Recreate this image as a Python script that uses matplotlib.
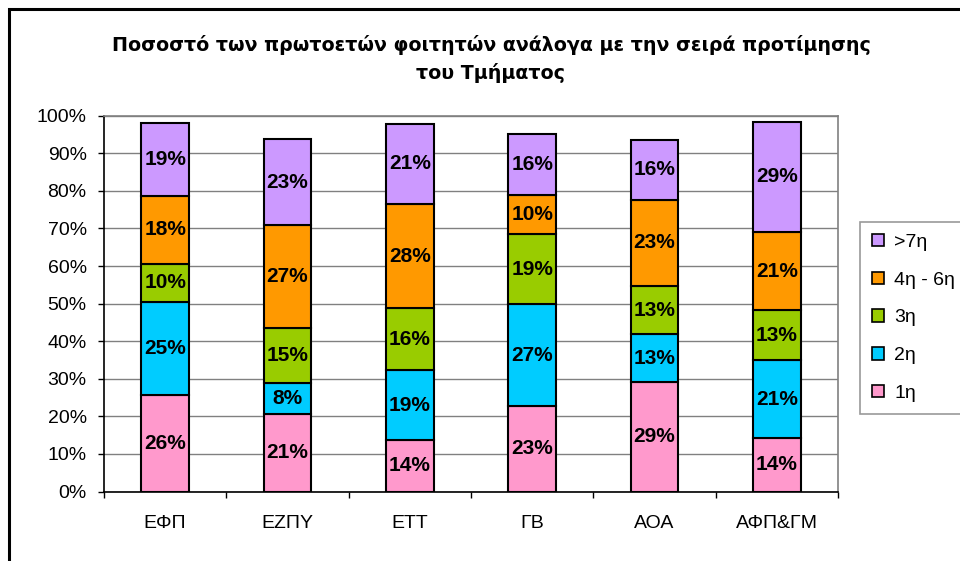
import matplotlib
matplotlib.use("Agg")
import matplotlib.pyplot as plt
from matplotlib.patches import Rectangle, Patch
import numpy as np

plt.rcParams['font.family'] = ['Liberation Sans', 'DejaVu Sans']

categories = ['ΕΦΠ', 'ΕΖΠΥ', 'ΕΤΤ', 'ΓΒ', 'ΑΟΑ', 'ΑΦΠ&ΓΜ']
series_names = ['1η', '2η', '3η', '4η - 6η', '>7η']
v_1 = [25.6, 20.6, 13.6, 22.7, 29.1, 14.2]
v_2 = [24.8, 8.4, 18.7, 27.1, 12.7, 20.7]
v_3 = [10.2, 14.6, 16.4, 18.7, 12.9, 13.3]
v_4_6 = [18.1, 27.2, 27.8, 10.4, 23.0, 20.8]
v_7 = [19.3, 22.9, 21.3, 16.2, 15.9, 29.4]
series_values = [v_1, v_2, v_3, v_4_6, v_7]
colors = ['#FF99CC', '#00CCFF', '#99CC00', '#FF9900', '#CC99FF']
yticks = [0, 10, 20, 30, 40, 50, 60, 70, 80, 90, 100]
title = 'Ποσοστό των πρωτοετών φοιτητών ανάλογα με την σειρά προτίμησης\nτου Τμήματος'

W, H = 960, 561
fig = plt.figure(figsize=(W / 100, H / 100), dpi=100)
ax = fig.add_axes([104 / W, 1 - 491.5 / H, (838 - 104) / W, (491.5 - 115.7) / H])

x = np.arange(len(categories))
bottom = np.zeros(len(categories))
for name, vals, col in zip(series_names, series_values, colors):
    vals = np.array(vals)
    bars = ax.bar(x, vals, 0.39, bottom=bottom, color=col, edgecolor='black',
                  linewidth=1.5, label=name, zorder=3)
    for b, v, bt in zip(bars, vals, bottom):
        ax.text(b.get_x() + b.get_width() / 2, bt + v / 2, '%.0f%%' % v,
                ha='center', va='center', fontsize=15, fontweight='bold', zorder=4)
    bottom += vals

ax.set_xlim(-0.5, len(categories) - 0.5)
ax.set_ylim(0, 100)
ax.set_yticks(yticks)
ax.set_yticklabels(['%d%%' % t for t in yticks])
ax.yaxis.grid(True, color='#808080', linewidth=1, zorder=0)
ax.set_axisbelow(True)

ax.set_xticks(x)
ax.set_xticklabels(categories)
ax.set_xticks(np.arange(len(categories) + 1) - 0.5, minor=True)
ax.tick_params(axis='x', which='major', length=0, pad=17, labelsize=14)
ax.tick_params(axis='x', which='minor', length=4.5, width=1, color='black', direction='out')
ax.tick_params(axis='y', length=4.5, width=1, pad=8, labelsize=14, direction='out')

for s in ['left', 'bottom']:
    ax.spines[s].set_color('black')
    ax.spines[s].set_linewidth(1.2)
for s in ['top', 'right']:
    ax.spines[s].set_color('#808080')
    ax.spines[s].set_linewidth(1.2)

fig.text(491 / W, 1 - 59 / H, title, ha='center', va='center', fontsize=13.7,
         fontweight='bold', linespacing=1.55, family=['DejaVu Sans'])

handles = [Patch(facecolor=c, edgecolor='black', linewidth=1.2, label=n)
           for n, c in zip(series_names, colors)][::-1]
leg = fig.legend(handles=handles, loc='upper left', bbox_to_anchor=(860 / W, 1 - 221.7 / H),
                 frameon=True, fontsize=14, handlelength=0.6, handleheight=0.6,
                 handletextpad=0.55, labelspacing=1.07, borderpad=0.62, fancybox=False,
                 borderaxespad=0)
leg.get_frame().set_edgecolor('#808080')
leg.get_frame().set_linewidth(1.2)

fig.patches.append(Rectangle((8.5 / W, -0.1), 2, 1.1 - 9.5 / H, transform=fig.transFigure,
                             fill=False, edgecolor='black', linewidth=2.2, figure=fig))

fig.savefig('out.png', dpi=100)
